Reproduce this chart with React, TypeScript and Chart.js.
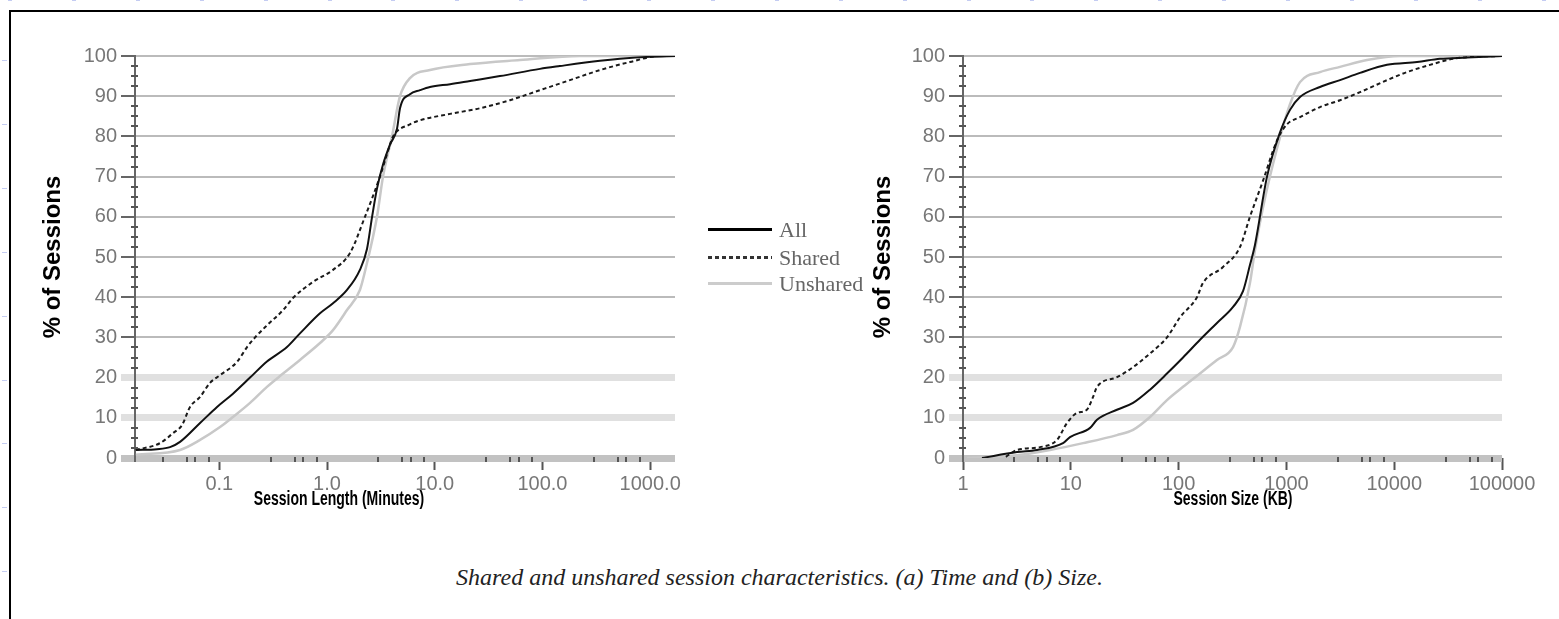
import React, { useEffect, useRef } from 'react';
import { Chart, registerables } from 'chart.js';

Chart.register(...registerables);
Chart.defaults.font.family = "'Liberation Sans', Arial, sans-serif";

// ---- series names / styles ----
const seriesNames = ['All', 'Shared', 'Unshared'];

// ---- (a) Session length (minutes) ----
const timeAllX = [0.0168, 0.0264, 0.0349, 0.0432, 0.0663, 0.0953, 0.134, 0.193, 0.277, 0.425, 0.561, 0.861, 1.137, 1.533, 2.02, 2.35, 2.62, 2.91, 3.31, 3.85, 4.47, 4.76, 5.89, 7.3, 9.03, 13.9, 21.3, 40.3, 94.8, 145, 342, 524, 995, 1700];
const timeAllY = [2, 2.2, 2.7, 4, 8.7, 12.7, 16, 20, 24, 27.6, 31, 36, 38.5, 41.8, 46.8, 52, 60, 67, 73, 78, 82, 87, 90.5, 91.5, 92.3, 93, 93.8, 95, 96.8, 97.5, 98.8, 99.3, 99.8, 100];

const timeSharedX = [0.0168, 0.0282, 0.0372, 0.0451, 0.0535, 0.0663, 0.082, 0.1016, 0.146, 0.181, 0.215, 0.277, 0.391, 0.483, 0.741, 1.137, 1.635, 2.25, 3.1, 3.85, 4.1, 5.89, 7.3, 13.9, 26.3, 49.9, 94.8, 180, 342, 649, 1231, 1700];
const timeSharedY = [2, 3.7, 6.2, 8.2, 12.7, 15.2, 18.7, 20.6, 23.9, 27.6, 30, 33, 36.8, 39.8, 43.8, 46.8, 51, 60, 70, 78, 80, 83, 84, 85.6, 87, 89, 91.5, 94, 96.5, 98.5, 100, 100];

const timeUnsharedX = [0.0168, 0.0432, 0.0663, 0.1016, 0.134, 0.193, 0.277, 0.391, 0.561, 0.861, 1.137, 1.533, 2.02, 2.35, 2.91, 3.31, 4.01, 4.76, 5.89, 9.03, 21.3, 61.8, 223, 1700];
const timeUnsharedY = [0.8, 2, 4.5, 7.7, 10.2, 13.7, 17.7, 21, 24.4, 28.6, 31.8, 36.8, 41.8, 48.5, 60, 70, 80, 90, 94.5, 96.5, 98, 99, 100, 100];

// ---- (b) Session size (KB) ----
const sizeAllX = [1.5, 3.17, 4.86, 8.47, 9.83, 15.1, 17.5, 26.8, 37.8, 54.3, 78, 110, 158, 227, 320, 396, 459, 511, 661, 873, 1080, 1337, 2049, 3143, 4819, 8580, 16290, 26600, 47300, 100000];
const sizeAllY = [0, 1.5, 2, 3.7, 5.2, 7.5, 9.5, 12, 13.7, 17, 21, 25, 29.4, 33.6, 37.6, 41.5, 48, 53, 70, 81, 86.6, 89.8, 92.3, 94, 95.8, 97.8, 98.5, 99.3, 99.6, 100];

const sizeSharedX = [2.5, 3.17, 5.18, 7.45, 9.22, 11.4, 14.1, 16.1, 17.5, 26.8, 37.8, 54.3, 78, 103, 148, 168, 258, 371, 459, 607, 818, 1013, 1337, 2049, 3143, 4819, 8580, 13150, 21490, 35100, 53800, 100000];
const sizeSharedY = [0.3, 2, 2.7, 4.5, 8.7, 11.2, 12, 15.2, 17.7, 20.1, 22.6, 26, 30, 35, 40, 43.5, 47.5, 52.5, 60, 69, 79, 83, 84.8, 87.3, 89, 91, 94, 96, 97.8, 99.3, 99.8, 100];

const sizeUnsharedX = [1.09, 3.17, 6.41, 13.0, 26.8, 37.8, 54.3, 78, 110, 158, 227, 320, 371, 459, 511, 607, 818, 1080, 1337, 2049, 3143, 5596, 11320, 100000];
const sizeUnsharedY = [0, 0.7, 2, 3.7, 5.7, 7, 10.2, 14.4, 17.7, 21, 24.4, 27.6, 32.6, 43.5, 51.7, 62.4, 77, 88, 93.5, 96, 97.3, 99, 100, 100];

// ---- ticks ----
const yTickValues = [0, 10, 20, 30, 40, 50, 60, 70, 80, 90, 100];
const yMinorStep = 2.5;
const timeTickValues = [0.1, 1, 10, 100, 1000];
const timeTickLabels = ['0.1', '1.0', '10.0', '100.0', '1000.0'];
const sizeTickValues = [1, 10, 100, 1000, 10000, 100000];
const sizeTickLabels = ['1', '10', '100', '1000', '10000', '100000'];
const xMinorMultipliers = [3, 5, 6, 8];

const yTitle = '% of Sessions';
const timeTitle = 'Session Length (Minutes)';
const sizeTitle = 'Session Size (KB)';
const caption = 'Shared and unshared session characteristics. (a) Time and (b) Size.';

const lineStyles = [
  { color: '#111111', width: 2, dash: [] as number[] },
  { color: '#1a1a1a', width: 2, dash: [4, 3] },
  { color: '#c8c8c8', width: 2.5, dash: [] as number[] },
];

const minorTicksPlugin = {
  id: 'minorTicks',
  afterDraw(chart: any) {
    const ctx = chart.ctx;
    const x = chart.scales.x;
    const y = chart.scales.y;
    const area = chart.chartArea;
    ctx.save();
    ctx.fillStyle = '#555';
    for (let v = 0; v <= 100; v += yMinorStep) {
      if (v % 10 === 0) continue;
      const py = Math.round(y.getPixelForValue(v));
      ctx.fillRect(area.left - 4, py - 1, 7, 2);
    }
    const e0 = Math.floor(Math.log10(x.min));
    const e1 = Math.ceil(Math.log10(x.max));
    for (let e = e0; e <= e1; e++) {
      for (const m of xMinorMultipliers) {
        const v = m * Math.pow(10, e);
        if (v < x.min || v > x.max) continue;
        const px = Math.round(x.getPixelForValue(v));
        ctx.fillRect(px - 1, area.bottom - 1, 2, 5);
      }
    }
    ctx.restore();
  },
};

function bandColor(v: number) {
  if (v === 0) return '#c2c2c2';
  if (v === 10 || v === 20) return '#e0e0e0';
  return '#bbbbbb';
}

type Cfg = {
  left: number; top: number; w: number; h: number;
  yWidth: number; padRight: number;
  xMin: number; xMax: number;
  tickValues: number[]; tickLabels: string[];
  xs: number[][]; ys: number[][];
};

function CdfChart({ cfg }: { cfg: Cfg }) {
  const ref = useRef<HTMLCanvasElement>(null);
  useEffect(() => {
    const chart = new Chart(ref.current as HTMLCanvasElement, {
      type: 'line',
      data: {
        datasets: cfg.xs.map((xs, i) => ({
          label: seriesNames[i],
          data: xs.map((x, j) => ({ x, y: cfg.ys[i][j] })),
          borderColor: lineStyles[i].color,
          borderWidth: lineStyles[i].width,
          borderDash: lineStyles[i].dash,
          pointRadius: 0,
          fill: false,
          cubicInterpolationMode: 'monotone',
        })),
      },
      options: {
        animation: false,
        responsive: false,
        events: [],
        layout: { padding: { left: 0, top: 44, right: cfg.padRight, bottom: 14 } },
        plugins: { legend: { display: false }, tooltip: { enabled: false } },
        scales: {
          x: {
            type: 'logarithmic',
            min: cfg.xMin,
            max: cfg.xMax,
            afterBuildTicks: (s: any) => { s.ticks = cfg.tickValues.map((v) => ({ value: v })); },
            afterFit: (s: any) => { s.height = 60; },
            grid: { drawOnChartArea: false, drawTicks: true, tickLength: 12, tickColor: '#555', tickWidth: 2 },
            border: { display: false },
            ticks: {
              autoSkip: false, maxRotation: 0, minRotation: 0, padding: 2,
              color: '#777', font: { size: 20 },
              callback: (_v: any, i: number) => cfg.tickLabels[i],
            },
          },
          y: {
            type: 'linear',
            min: 0,
            max: 100,
            afterBuildTicks: (s: any) => { s.ticks = yTickValues.map((v) => ({ value: v })); },
            afterFit: (s: any) => { s.width = cfg.yWidth; },
            grid: {
              color: (c: any) => bandColor(c.tick.value),
              lineWidth: (c: any) => (c.tick.value <= 20 ? 7 : 2),
              tickColor: (c: any) => (c.tick.value <= 20 ? bandColor(c.tick.value) : '#666'),
              tickWidth: (c: any) => (c.tick.value <= 20 ? 7 : 2),
              tickLength: 14,
              drawTicks: true,
            },
            border: { display: true, color: '#666', width: 2 },
            ticks: { padding: 4, color: '#777', font: { size: 20 } },
            title: {
              display: true, text: yTitle, color: '#000',
              font: { size: 24, weight: 'bold' },
              padding: { top: 28.6, bottom: 0 },
            },
          },
        },
      } as any,
      plugins: [minorTicksPlugin],
    });
    return () => chart.destroy();
  }, []);
  return (
    <canvas
      ref={ref}
      width={cfg.w}
      height={cfg.h}
      style={{ position: 'absolute', left: cfg.left, top: cfg.top }}
    />
  );
}

const timeCfg: Cfg = {
  left: 10, top: 12, w: 680, h: 520, yWidth: 125, padRight: 15,
  xMin: 0.0165, xMax: 1700,
  tickValues: timeTickValues, tickLabels: timeTickLabels,
  xs: [timeAllX, timeSharedX, timeUnsharedX],
  ys: [timeAllY, timeSharedY, timeUnsharedY],
};

const sizeCfg: Cfg = {
  left: 840, top: 12, w: 700, h: 520, yWidth: 123, padRight: 38,
  xMin: 1, xMax: 100000,
  tickValues: sizeTickValues, tickLabels: sizeTickLabels,
  xs: [sizeAllX, sizeSharedX, sizeUnsharedX],
  ys: [sizeAllY, sizeSharedY, sizeUnsharedY],
};

const legendSwatch = [
  { background: '#000', height: 3 },
  { background: 'repeating-linear-gradient(to right, #333 0 4px, transparent 4px 7px)', height: 3 },
  { background: '#cccccc', height: 3 },
];
const legendRowY = [229, 257, 283];

function XTitle({ text, cx }: { text: string; cx: number }) {
  return (
    <div
      style={{
        position: 'absolute', left: cx, top: 498,
        transform: 'translate(-50%, -50%) scaleX(0.7)',
        font: "bold 20px 'Liberation Sans', Arial, sans-serif",
        color: '#000', whiteSpace: 'nowrap', lineHeight: '22px',
      }}
    >
      {text}
    </div>
  );
}

export default function App() {
  const topMarks: number[] = [];
  for (let k = 0; k < 25; k++) topMarks.push(10 + 63.9 * k);
  const leftMarks: number[] = [];
  for (let k = 0; k < 9; k++) leftMarks.push(60 + 63.9 * k);

  return (
    <div style={{ position: 'absolute', left: 0, top: 0, width: 1559, height: 619, background: '#fff', overflow: 'hidden' }}>
      {topMarks.map((x, i) => (
        <div key={'t' + i} style={{ position: 'absolute', left: x - 2, top: 0, width: 4, height: 1, background: '#c4ccf2' }} />
      ))}
      {leftMarks.map((y, i) => (
        <div key={'l' + i} style={{ position: 'absolute', left: 2, top: y, width: 5, height: 1, background: '#c4ccf2' }} />
      ))}
      <div style={{ position: 'absolute', left: 9, top: 10, width: 1550, height: 2, background: '#000' }} />
      <div style={{ position: 'absolute', left: 9, top: 10, width: 2, height: 609, background: '#000' }} />

      <CdfChart cfg={timeCfg} />
      <CdfChart cfg={sizeCfg} />

      <XTitle text={timeTitle} cx={339} />
      <XTitle text={sizeTitle} cx={1233} />

      {seriesNames.map((name, i) => (
        <React.Fragment key={name}>
          <div style={{ position: 'absolute', left: 708, top: legendRowY[i] - 1, width: 64, ...legendSwatch[i] }} />
          <div
            style={{
              position: 'absolute', left: 779, top: legendRowY[i] - 12, height: 24, lineHeight: '24px',
              font: "22px 'Liberation Serif', 'Times New Roman', serif", color: '#666', whiteSpace: 'nowrap',
            }}
          >
            {name}
          </div>
        </React.Fragment>
      ))}

      <div
        style={{
          position: 'absolute', left: 0, width: 1559, top: 563, textAlign: 'center',
          font: "italic 24px 'Liberation Serif', 'Times New Roman', serif", color: '#222', lineHeight: '28px',
        }}
      >
        {caption}
      </div>
    </div>
  );
}
